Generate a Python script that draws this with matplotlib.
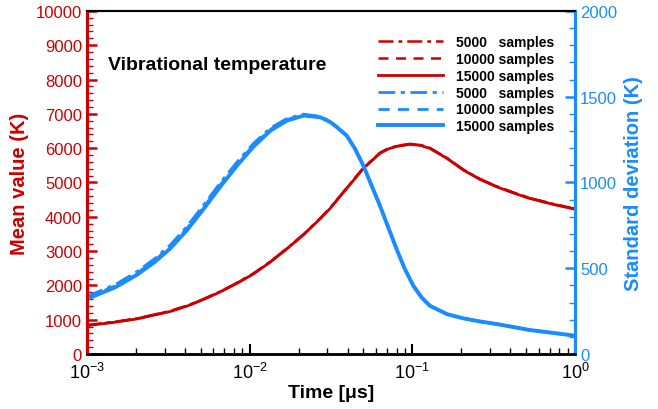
import numpy as np
import matplotlib.pyplot as plt
from matplotlib.ticker import MultipleLocator, LogLocator, NullFormatter

plt.rcParams['font.family'] = ['Liberation Sans', 'DejaVu Sans']

RED = '#cc0000'
BLUE = '#1a8cff'

# mean vibrational temperature (K), left axis
t_mean = [1e-3, 1.5e-3, 2.03e-3, 3.25e-3, 4.2e-3, 5.21e-3, 6.6e-3, 8.36e-3, 1.06e-2,
          1.34e-2, 1.69e-2, 2.15e-2, 2.72e-2, 3.12e-2, 3.44e-2, 3.95e-2, 5.0e-2,
          6.32e-2, 7.1e-2, 8.0e-2, 9.67e-2, 0.112, 0.128, 0.163, 0.206, 0.26, 0.33,
          0.42, 0.528, 0.72, 1.0]
mean_15000 = [828, 930, 1023, 1240, 1410, 1590, 1810, 2060, 2340, 2680, 3060,
              3480, 3947, 4240, 4483, 4825, 5409, 5848, 5975, 6050, 6111, 6080,
              5994, 5702, 5360, 5090, 4873, 4690, 4532, 4370, 4219]
mean_10000 = [v + 8 for v in mean_15000]
mean_5000 = [v + 15 for v in mean_15000]

# standard deviation (K), right axis
t_std = [1e-3, 1.5e-3, 2.03e-3, 2.6e-3, 3.25e-3, 4.12e-3, 5.21e-3, 6.6e-3, 8.36e-3,
         1.06e-2, 1.34e-2, 1.69e-2, 2.15e-2, 2.72e-2, 3.12e-2, 3.44e-2, 3.95e-2,
         4.45e-2, 5.0e-2, 5.6e-2, 6.32e-2, 7.1e-2, 8.0e-2, 9.0e-2, 0.1014, 0.114,
         0.128, 0.163, 0.206, 0.26, 0.33, 0.528, 0.75, 1.0]
std_15000 = [321, 390, 462, 535, 615, 722, 845, 975, 1098, 1210, 1302, 1360,
             1390, 1380, 1353, 1322, 1273, 1195, 1098, 985, 865, 740, 612, 495,
             398, 330, 282, 233, 208, 190, 175, 140, 122, 107]
std_10000 = [328, 398, 471, 545, 625, 733, 856, 986, 1108, 1219, 1309, 1366,
             1394, 1382, 1354, 1323, 1274, 1196, 1098, 985, 865, 740, 612, 495,
             398, 330, 282, 233, 208, 190, 175, 140, 122, 107]
std_5000 = [336, 406, 480, 555, 635, 744, 868, 998, 1119, 1229, 1317, 1372,
            1398, 1385, 1356, 1324, 1275, 1197, 1099, 986, 866, 741, 612, 495,
            398, 330, 282, 233, 208, 190, 175, 140, 122, 107]

fig = plt.figure(figsize=(6.58, 4.10), dpi=100)
ax = fig.add_axes([0.132, 0.134, 0.742, 0.837])
ax2 = ax.twinx()

dashdot = (0, (6, 2, 1.5, 2))
dashed = (0, (4, 3))

l1, = ax.plot(t_mean, mean_5000, color=RED, ls=dashdot, lw=1.8)
l2, = ax.plot(t_mean, mean_10000, color=RED, ls=dashed, lw=1.8)
l3, = ax.plot(t_mean, mean_15000, color=RED, ls='-', lw=2.0)
l4, = ax2.plot(t_std, std_5000, color=BLUE, ls=dashdot, lw=2.0)
l5, = ax2.plot(t_std, std_10000, color=BLUE, ls=dashed, lw=2.0)
l6, = ax2.plot(t_std, std_15000, color=BLUE, ls='-', lw=2.8)

ax.set_xscale('log')
ax.set_xlim(1e-3, 1)
ax.set_ylim(0, 10000)
ax2.set_ylim(0, 2000)

ax.xaxis.set_major_locator(LogLocator(base=10, numticks=10))
ax.xaxis.set_minor_locator(LogLocator(base=10, subs=np.arange(2, 10), numticks=10))
ax.xaxis.set_minor_formatter(NullFormatter())
ax.yaxis.set_major_locator(MultipleLocator(1000))
ax.yaxis.set_minor_locator(MultipleLocator(200))
ax2.yaxis.set_major_locator(MultipleLocator(500))
ax2.yaxis.set_minor_locator(MultipleLocator(100))

ax.tick_params(axis='x', which='major', direction='in', length=7, width=1.5,
               labelsize=13, top=False, pad=6)
ax.tick_params(axis='x', which='minor', direction='in', length=4, width=1, top=False)
ax.tick_params(axis='y', which='major', direction='in', length=7, width=1.8,
               colors=RED, labelsize=12)
ax.tick_params(axis='y', which='minor', direction='in', length=4, width=1, colors=RED)
ax2.tick_params(axis='y', which='major', direction='in', length=7, width=1.8,
                colors=BLUE, labelsize=12)
ax2.tick_params(axis='y', which='minor', direction='in', length=4, width=1, colors=BLUE)

for a in (ax, ax2):
    a.spines['left'].set_color(RED)
    a.spines['left'].set_linewidth(2.2)
    a.spines['right'].set_color(BLUE)
    a.spines['right'].set_linewidth(2.2)
    a.spines['bottom'].set_linewidth(1.8)
    a.spines['top'].set_linewidth(1.5)

ax.set_xlabel('Time [\u03bcs]', fontsize=14, fontweight='bold', labelpad=1)
ax.set_ylabel('Mean value (K)', fontsize=14.5, fontweight='bold', color=RED, labelpad=5)
ax2.set_ylabel('Standard deviation (K)', fontsize=14.5, fontweight='bold', color=BLUE,
               labelpad=5)

ax.text(0.043, 0.845, 'Vibrational temperature', transform=ax.transAxes,
        fontsize=14, fontweight='bold', va='center')

ax2.legend([l1, l2, l3, l4, l5, l6],
           ['5000   samples', '10000 samples', '15000 samples',
            '5000   samples', '10000 samples', '15000 samples'],
           loc='upper right', frameon=False, prop={'weight': 'bold', 'size': 10},
           handlelength=4.7, handletextpad=0.9, labelspacing=0.2, borderaxespad=0,
           bbox_to_anchor=(0.968, 0.945))

fig.savefig('out.png', dpi=100)
